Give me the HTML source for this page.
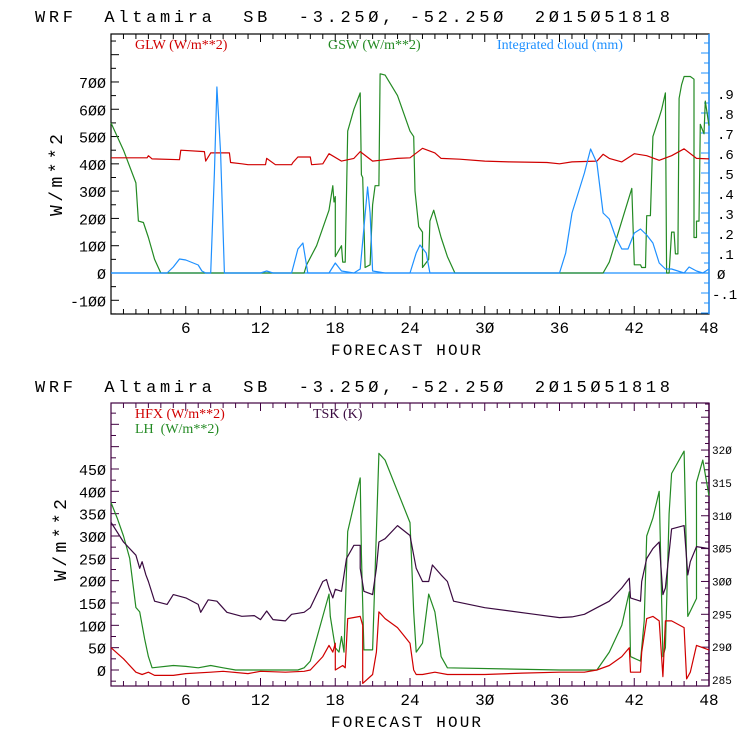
<!DOCTYPE html>
<html><head><meta charset="utf-8"><style>
html,body{margin:0;padding:0;background:#fff;}
svg{display:block;}
text{font-family:"Liberation Mono",monospace;white-space:pre;}
</style></head><body>
<svg id="c" width="740" height="740" xmlns="http://www.w3.org/2000/svg" xml:space="preserve"></svg>
<script>
// ===== data =====
const hourTicks = [6,12,18,24,30,36,42,48];
const topLeftTicks = [-100,0,100,200,300,400,500,600,700];
const topRightTicks = [-0.1,0,0.1,0.2,0.3,0.4,0.5,0.6,0.7,0.8,0.9];
const topRightLabels = ["-.1","0",".1",".2",".3",".4",".5",".6",".7",".8",".9"];
const botLeftTicks = [0,50,100,150,200,250,300,350,400,450];
const botRightTicks = [285,290,295,300,305,310,315,320];

const glwH = [0,2.9,3,3.3,5.5,5.6,7.5,7.6,8,9.5,9.6,10.5,11,12.4,12.5,13.2,14.5,14.6,15,16,16.1,17,17.5,18.5,19.5,20,21,22,23,24,25,26,26.5,28,30,32,35,36,37,39,39.5,40,41,42,43,44,45,46,47,48];
const glwV = [422,422,430,418,415,450,445,410,440,440,405,400,397,397,420,397,397,405,425,425,397,400,437,410,420,445,410,415,420,422,457,440,420,417,410,407,405,400,407,410,435,420,407,437,430,413,430,455,420,418];

const gswH = [0,1,2,2.2,2.6,3,3.5,4,15.5,15.7,16.5,17.5,17.8,17.9,18,18,18.5,18.6,18.8,19,19.5,20,20.1,20.2,20.4,20.8,21,21.2,21.5,21.6,22,23,24,24.3,24.4,24.7,25,25,25.5,25.6,25.9,26.5,27,27.6,39.5,40,41,41.8,42,42.5,42.6,42.9,43,43.3,43.5,44,44.2,44.5,44.6,44.8,45,45.2,45.3,45.5,45.6,45.8,46,46.5,46.8,46.8,47,47,47.2,47.3,47.6,47.7,48];
const gswV = [550,450,330,190,185,130,50,0,0,30,100,230,320,260,280,60,100,40,40,520,600,660,360,350,20,30,250,320,320,730,725,650,520,500,300,170,150,20,50,190,230,130,60,0,0,40,190,310,30,30,20,20,210,210,500,570,600,660,0,0,150,150,70,70,640,690,720,720,710,130,130,190,190,545,510,630,540];

const cldH = [0,4.5,5,5.5,6,7,7.3,7.6,8,8.3,8.5,8.8,9.1,12,12.5,13,14.5,15,15.4,15.8,17.5,18,18.5,19.5,20,20.6,20.8,21,22,24,24.5,24.8,25.3,25.6,36,36.5,37,38,38.5,39,39.5,40,40.5,41,41.5,42,42.5,43,43.5,44,44.5,45,46,46.4,47,47.5,48];
const cldV = [0,0,0.03,0.07,0.065,0.04,0.01,0,0,0.5,0.93,0.6,0,0,0.01,0,0,0.12,0.15,0,0,0.05,0.01,0,0.02,0.43,0.3,0.01,0,0,0.1,0.14,0.1,0,0,0.1,0.3,0.5,0.62,0.55,0.3,0.27,0.18,0.12,0.12,0.2,0.22,0.19,0.15,0.05,0.02,0.02,0,0.03,0.01,0,0.02];

const hfxH = [0,1,2,2.5,3,3.5,5,6,8,9,11,12,14,15.5,16,17,17.5,17.8,18,18,18.6,18.8,19,20,20.2,20.2,21,21.3,21.5,22,23,24,24.3,24.5,25,26,27,30,33,36,38,39,40,41,41.6,41.7,42.5,42.6,43,43.5,44,44.3,44.5,45,46,46.2,46.5,47,48];
const hfxV = [50,25,-5,-10,-5,-12,-12,-8,-5,-3,-8,-3,-5,-3,0,30,55,40,60,0,10,5,115,120,100,-30,-10,40,130,115,95,60,0,-10,-10,-5,-10,-10,-7,-5,-5,0,10,30,50,-5,-5,40,115,120,110,-15,110,110,95,-20,-5,55,45];

const lhH = [0,0.5,1,1.5,2,2.3,2.7,3,3.3,5,6,7,8,9,10,12,15,15.5,16,16.5,17,17.5,17.6,18,18.3,18.5,18.7,19,19.5,20,20.1,20.3,21,21.5,22,23,24,24.3,24.5,25,25.5,26,26.5,27,36,39,40,41,41.6,41.7,42.5,42.8,43,43.5,44,44.3,44.5,44.8,45,46,46.3,47,47,47.5,48];
const lhV = [375,340,300,250,140,130,70,30,5,10,8,5,10,5,0,0,0,5,20,70,120,170,120,50,40,75,40,310,370,430,260,45,45,485,470,400,330,130,40,60,170,130,30,5,0,0,40,100,175,30,20,110,300,340,400,30,50,350,440,490,120,160,420,470,390];

const tskH = [0,1,2,2.3,2.5,2.8,3,3.5,4.5,5,6,7,7.2,7.8,8.5,9.3,10.5,11.5,12,12.5,13,14,14.5,15.5,16,17,17.3,17.5,17.8,18,18.5,18.9,19.5,20,20,20.3,21,21.3,21.5,22,23,24,24.3,24.5,25,25.5,25.8,26.5,27,27.5,30,34,36,37,38,39,40,41,41.6,41.7,42.5,42.6,43,43.5,44,44.3,44.5,45,46,46.3,46.5,47,48];
const tskV = [309,306,304,302,303,301,300,297,296.5,298,297.5,296.5,295.3,297.2,297,295.3,294.7,294.8,294.2,295.5,294.2,294,295,295.3,296,300,300.3,299,297.5,298.8,298.5,303.5,305.5,305.5,302,298.5,298,302,306,306.5,308.5,307,304,302,300,300,302.5,301,300,297,296,295,294.5,294.6,295,296,297,299,300.5,297.5,297,300,303.5,305,306,298,299,308,308.5,301,303,305.3,305];

// ===== drawing =====
const svg = document.getElementById('c');
const NS = 'http://www.w3.org/2000/svg';
function mk(tag, attrs, parent){
  const e = document.createElementNS(NS, tag);
  for (const k in attrs) e.setAttribute(k, attrs[k]);
  (parent||svg).appendChild(e);
  return e;
}
const X0 = 111, X1 = 709;
const xs = h => X0 + h/48*(X1-X0);
function zeroSlash(s){ return String(s).replace(/0/g,'\u00d8'); }

function title(y){
  const t = mk('text',{x:35,y:y,'font-size':17,fill:'#000',textLength:635,lengthAdjust:'spacing'});
  
  
  t.textContent = 'WRF  Altamira  SB  -3.25\u00d8, -52.25\u00d8  2\u00d815\u00d851818';
}

function panel(top, bottom, frameColor, rightColor){
  const g = mk('g',{});
  
  
  mk('rect',{x:X0,y:top,width:X1-X0,height:bottom-top,fill:'none',stroke:frameColor,'stroke-width':1.2},g);
  mk('line',{x1:X1,y1:top,x2:X1,y2:bottom,stroke:rightColor,'stroke-width':1.4},g);
  for (let h=1; h<48; h++){
    const x = xs(h), L = (h%6===0)?8:5;
    mk('line',{x1:x,y1:bottom,x2:x,y2:bottom-L,stroke:frameColor,'stroke-width':1},g);
    mk('line',{x1:x,y1:top,x2:x,y2:top+L,stroke:frameColor,'stroke-width':1},g);
  }
  hourTicks.forEach(h=>{
    const t = mk('text',{x:xs(h),y:bottom+19,'font-size':16,'text-anchor':'middle',fill:'#000'});
    
    
    t.textContent = zeroSlash(h);
  });
  const xt = mk('text',{x:406,y:bottom+41,'font-size':16,'text-anchor':'middle',fill:'#000',textLength:150,lengthAdjust:'spacing'});
  
  
  xt.textContent = 'FORECAST HOUR';
}
function series(H, V, ys, color, name){
  let d='';
  for (let i=0;i<H.length;i++) d += (i?'L':'M') + xs(H[i]).toFixed(1) + ' ' + ys(V[i]).toFixed(1);
  const p = mk('path',{d:d,fill:'none',stroke:color,'stroke-width':1.2,'stroke-linejoin':'round'});
  
  
}
function legend(x,y,txt,color){
  const t = mk('text',{x:x,y:y,'font-size':14,fill:color});
  t.style.fontFamily = '"Liberation Serif",serif';
  
  
  t.textContent = txt;
}
function ylabel(x,y){
  const t = mk('text',{x:0,y:0,'font-size':18,fill:'#000','text-anchor':'middle',textLength:82,lengthAdjust:'spacing',transform:`translate(${x},${y}) rotate(-90)`});
  
  
  t.textContent = 'W/m**2';
}

// ---- top panel ----
title(22);
const T0=34, T1=314;
const yT = v => 273 - v*0.2729;
const yC = v => 273 - v*200;
panel(T0,T1,'#000','#1e90ff');
for (let v=-150; v<=850; v+=50){
  const y=yT(v); if(y<T0||y>T1) continue;
  mk('line',{x1:X0,y1:y,x2:X0+(v%100===0?8:5),y2:y,stroke:'#000'});
}
for (let v=-0.2; v<=1.2; v+=0.05){
  const y=yC(v); if(y<T0+1||y>T1-1) continue;
  const maj = Math.abs(Math.round(v*10)-v*10)<1e-6;
  mk('line',{x1:X1,y1:y,x2:X1-(maj?8:5),y2:y,stroke:'#1e90ff'});
}
topLeftTicks.forEach(v=>{
  const t=mk('text',{x:106,y:yT(v)+6,'font-size':15,'text-anchor':'end',fill:'#000'});
  
  
  t.textContent=zeroSlash(v);
});
topRightTicks.forEach((v,i)=>{
  const t=mk('text',{x:(v<0?712:717),y:yC(v)+6,'font-size':14,fill:'#000'});
  
  
  t.textContent=zeroSlash(topRightLabels[i]);
});
ylabel(62,175);
mk('line',{x1:X0,y1:yT(0),x2:X1,y2:yT(0),stroke:'#1e90ff','stroke-width':1.2});
series(gswH,gswV,yT,'#238a23','gsw-line');
series(glwH,glwV,yT,'#d00000','glw-line');
series(cldH,cldV,yC,'#1e90ff','cloud-line');
legend(135,49,'GLW (W/m**2)','#d00000');
legend(328,49,'GSW (W/m**2)','#238a23');
legend(497,49,'Integrated cloud (mm)','#1e90ff');

// ---- bottom panel ----
title(392);
const B0=403, B1=686;
const yB = v => 670 - v*0.4467;
const yK = v => 680 - (v-285)*6.57;
panel(B0,B1,'#400040','#400040');
for (let v=-25; v<=600; v+=25){
  const y=yB(v); if(y<B0||y>B1) continue;
  mk('line',{x1:X0,y1:y,x2:X0+(v%50===0?8:5),y2:y,stroke:'#400040'});
}
for (let v=284; v<=330; v+=1){
  const y=yK(v); if(y<B0+1||y>B1-1) continue;
  mk('line',{x1:X1,y1:y,x2:X1-(v%5===0?8:4),y2:y,stroke:'#400040'});
}
botLeftTicks.forEach(v=>{
  const t=mk('text',{x:106,y:yB(v)+6,'font-size':15,'text-anchor':'end',fill:'#000'});
  
  
  t.textContent=zeroSlash(v);
});
botRightTicks.forEach(v=>{
  const t=mk('text',{x:712,y:yK(v)+4,'font-size':11,fill:'#000'});
  
  
  t.textContent=zeroSlash(v);
});
ylabel(66,540);
series(lhH,lhV,yB,'#238a23','lh-line');
series(tskH,tskV,yK,'#3a0a40','tsk-line');
series(hfxH,hfxV,yB,'#d00000','hfx-line');
legend(135,418,'HFX (W/m**2)','#d00000');
legend(135,433,'LH  (W/m**2)','#238a23');
legend(313,418,'TSK (K)','#3a0a40');
</script>
</body></html>
